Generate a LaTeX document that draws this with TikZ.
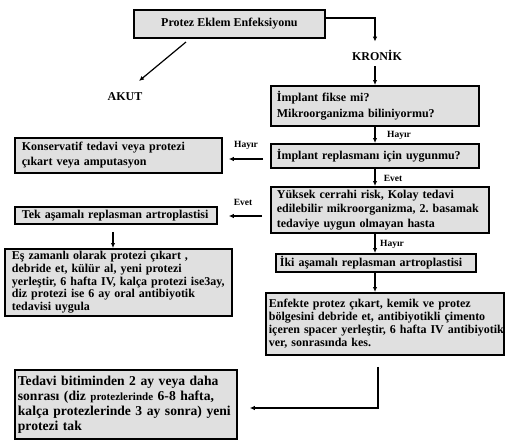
\documentclass[tikz,border=0pt]{standalone}
\usepackage{fontspec}
\setmainfont{Liberation Serif}
\usetikzlibrary{arrows.meta}
\frenchspacing
\definecolor{boxgray}{RGB}{224,224,224}
\tikzset{
  box/.style={draw=black, line width=1.8pt, fill=boxgray, inner sep=4pt, anchor=north west, font=\bfseries\fontsize{12}{15}\selectfont},
  lbox/.style={box, align=left},
  conn/.style={line width=1.2pt, -{Latex[length=5pt,width=4.5pt]}},
  lab/.style={font=\bfseries\fontsize{9.5}{10}\selectfont, inner sep=0pt},
  head/.style={font=\bfseries\fontsize{12}{13}\selectfont, inner sep=0pt}
}
\begin{document}
\begin{tikzpicture}[x=1pt,y=-1pt]
\frenchspacing
\useasboundingbox (0,0) rectangle (507,440);
% boxes
\node[box, minimum width=191pt, minimum height=28pt, align=center, font=\bfseries\fontsize{12}{13}\selectfont] (p1) at (133,9) {Protez Eklem Enfeksiyonu};
\node[lbox, minimum width=208pt, minimum height=40pt, inner xsep=6pt, text width=196pt, font=\bfseries\fontsize{12}{16}\selectfont] (b2) at (270,85) {İmplant fikse mi?\\Mikroorganizma biliniyormu?};
\node[lbox, minimum width=208pt, minimum height=24pt, inner xsep=6pt, text width=196pt, inner ysep=2pt] (b3) at (270,143) {İmplant replasmanı için uygunmu?};
\node[lbox, minimum width=207pt, minimum height=35pt, inner xsep=7pt, text width=193pt] (b4) at (14,137) {Konservatif tedavi veya protezi\\çıkart veya amputasyon};
\node[lbox, minimum width=218pt, minimum height=46pt, inner xsep=6pt, text width=206pt, inner ysep=2pt, font=\bfseries\fontsize{12}{14.5}\selectfont] (b5) at (270,186) {Yüksek cerrahi risk, Kolay tedavi\\edilebilir mikroorganizma, 2.\ basamak\\tedaviye uygun olmayan hasta};
\node[lbox, minimum width=202pt, minimum height=17pt, inner xsep=7pt, text width=188pt, inner ysep=1pt] (b6) at (14,206) {Tek aşamalı replasman artroplastisi};
\node[lbox, minimum width=227pt, minimum height=67pt, inner xsep=7pt, text width=213pt, inner ysep=2pt, font=\bfseries\fontsize{12}{12.7}\selectfont] (b7) at (4,248) {Eş zamanlı olarak protezi çıkart ,\\debride et, külür al, yeni protezi\\\mbox{yerleştir, 6 hafta IV, kalça protezi ise3ay,}\\diz protezi ise 6 ay oral antibiyotik\\tedavisi uygula};
\node[lbox, minimum width=200pt, minimum height=18pt, inner xsep=4pt, text width=192pt, inner ysep=1pt] (b8) at (275,253) {İki aşamalı replasman artroplastisi};
\node[lbox, minimum width=238pt, minimum height=62pt, inner xsep=3pt, text width=232pt, inner ysep=2pt, font=\bfseries\fontsize{12}{13}\selectfont] (b9) at (265,292) {Enfekte protez çıkart, kemik ve protez\\bölgesini debride et, antibiyotikli çimento\\\mbox{içeren spacer yerleştir, 6 hafta IV antibiyotik}\\ver, sonrasında kes.};
\node[lbox, minimum width=222pt, minimum height=69pt, inner xsep=3pt, text width=216pt, inner ysep=2pt, font=\bfseries\fontsize{13.6}{15}\selectfont] (b10) at (14,369) {Tedavi bitiminden 2 ay veya daha\\sonrası (diz {\fontsize{11}{15}\selectfont protezlerinde} 6-8 hafta,\\\mbox{kalça protezlerinde 3 ay sonra) yeni}\\protezi tak};
% headings
\node[head] (kronik) at (377,55) {KRONİK};
\node[head] (akut) at (125,97) {AKUT};
% labels
\node[lab] (l1) at (399,135) {Hayır};
\node[lab] (l2) at (246,145) {Hayır};
\node[lab] (l3) at (393,178) {Evet};
\node[lab] (l4) at (243,202) {Evet};
\node[lab] (l5) at (392,244) {Hayır};
% connectors
\coordinate (akst) at (186,42);
\coordinate (aken) at (139,81);
\draw[conn] (p1.east |- 0,18) -| ([yshift=8pt]kronik.north -| 375,0);
\draw[conn] ([yshift=-6pt]kronik.south -| 375,0) -- (b2.north -| 375,0);
\draw[conn] (akst) -- (aken);
\draw[conn] (b2.south -| 375,0) -- (b3.north -| 375,0);
\draw[conn, shorten <=7pt, shorten >=6pt] (b3.west |- 0,159) -- (b4.east |- 0,159);
\draw[conn] (b3.south -| 375,0) -- (b5.north -| 375,0);
\draw[conn, shorten <=8pt, shorten >=11pt] (b5.west |- 0,216) -- (b6.east |- 0,216);
\draw[conn, shorten <=7pt] (b6.south -| 113,0) -- (b7.north -| 113,0);
\draw[conn] (b5.south -| 375,0) -- (b8.north -| 375,0);
\draw[conn] (b8.south -| 375,0) -- (b9.north -| 375,0);
\coordinate (bend) at (378,408);
\draw[conn, shorten >=12pt] ([yshift=-11pt]b9.south -| 378,0) -- (bend) -- (b10.east |- bend);
\end{tikzpicture}
\end{document}
